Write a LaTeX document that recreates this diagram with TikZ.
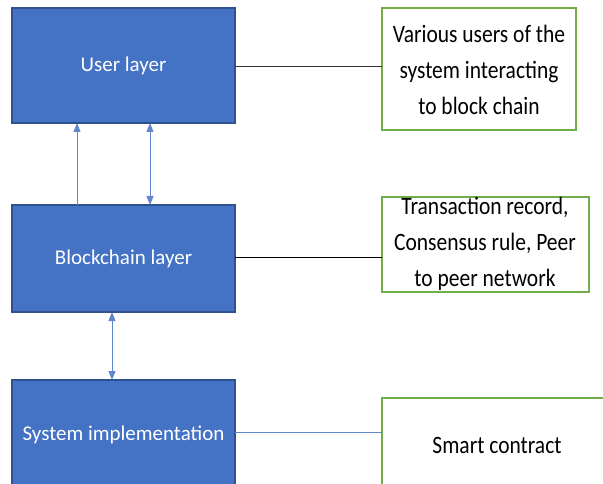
\documentclass[tikz,border=0pt]{standalone}
\usepackage{fontspec}
\setmainfont{Carlito}
\newfontfamily\notefont[FakeStretch=0.86]{Carlito}
\usetikzlibrary{arrows.meta}
\definecolor{bfill}{HTML}{4472C4}
\definecolor{bdraw}{HTML}{2F528F}
\definecolor{gdraw}{HTML}{70AD47}
\tikzset{
  layerbox/.style={draw=bdraw, line width=1.5pt, fill=bfill},
  notebox/.style={draw=gdraw, line width=1.5pt, fill=white},
  conn/.style={draw=bfill!85!white, line width=1pt},
  tip/.style={-{Triangle[length=9pt,width=7pt]}},
  dtip/.style={{Triangle[length=9pt,width=7pt]}-{Triangle[length=9pt,width=7pt]}},
  ltext/.style={text=white, font=\fontsize{21}{25}\selectfont},
  ntext/.style={text=black, font=\notefont\fontsize{25}{36}\selectfont, align=center}
}
\begin{document}
\begin{tikzpicture}[x=1pt,y=-1pt]
\useasboundingbox (0,0) rectangle (603,484);
\begin{scope}
\clip (0,0) rectangle (603,484);
% blue layers
\draw[layerbox] (12,8) rectangle (235,123);
\draw[layerbox] (12,205) rectangle (235,312);
\draw[layerbox] (12,380) rectangle (235,490);
\node[ltext] (user) at (123.5,66) {User layer};
\node[ltext] (chain) at (123.5,259) {Blockchain layer};
\node[ltext] (sys) at (123.5,435) {System implementation};
% green notes
\draw[notebox] (382,8) rectangle (576,130);
\draw[notebox] (382,197) rectangle (589,292);
\draw[notebox] (382,398) rectangle (610,490);
\node[ntext] (n1) at (479,70) {Various users of the\\system interacting\\to block chain};
\node[ntext] (n2) at (485,244) {Transaction record,\\Consensus rule, Peer\\to peer network};
\node[ntext] (n3) at (497,445) {Smart contract};
% anchor coordinates
\coordinate (uR) at (235,67); \coordinate (n1L) at (382,67);
\coordinate (cR) at (235,257); \coordinate (n2L) at (382,257);
\coordinate (sR) at (235,432); \coordinate (n3L) at (382,432);
\coordinate (a1b) at (77,205); \coordinate (a1t) at (77,123);
\coordinate (a2b) at (150,205); \coordinate (a2t) at (150,123);
\coordinate (a3t) at (112,312); \coordinate (a3b) at (112,380);
% connectors
\draw[black!80, line width=1pt] (uR) -- (n1L);
\draw[black, line width=1pt] (cR) -- (n2L);
\draw[conn] (sR) -- (n3L);
\draw[conn, tip] (a1b) -- (a1t);
\draw[conn, dtip] (a2b) -- (a2t);
\draw[conn, dtip] (a3t) -- (a3b);
\end{scope}
\end{tikzpicture}
\end{document}
